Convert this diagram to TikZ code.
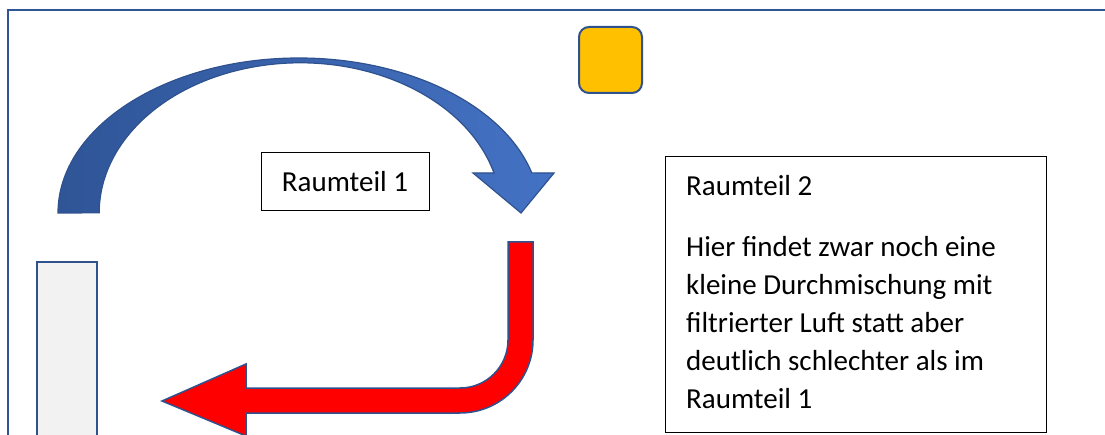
\documentclass[tikz,border=0pt]{standalone}
\usepackage{fontspec}
\setmainfont{Carlito}
\definecolor{frameblue}{HTML}{2F5597}
\definecolor{outl}{HTML}{2F528F}
\definecolor{bluedark}{HTML}{2F5597}
\definecolor{bluelight}{HTML}{4472C4}
\definecolor{orangefill}{HTML}{FFC000}
\definecolor{grayfill}{HTML}{F2F2F2}
\definecolor{redfill}{HTML}{FF0000}
\tikzset{
  textbox/.style={draw=black, line width=1pt, fill=white, inner sep=0pt},
  labeltext/.style={font=\fontsize{29}{38}\selectfont, inner sep=0pt},
  shapeline/.style={draw=outl, line width=1.5pt},
}
\begin{document}
\begin{tikzpicture}[x=1pt,y=-1pt]
\useasboundingbox (0,0) rectangle (1105,435);
% outer frame
\draw[frameblue, line width=2.5pt] (8,10) rectangle (1140,470);
% blue curved arrow
\path[shapeline, line width=1.2pt, left color=bluedark, right color=bluelight]
  (58,213) arc[start angle=180, end angle=345, x radius=241, y radius=155]
  -- (554,173) -- (521,213) -- (473,173) -- (494,173)
  arc[start angle=344.6, end angle=180, x radius=201, y radius=150] -- cycle;
% orange square
\node[shapeline, line width=2pt, fill=orangefill, rounded corners=10pt,
      minimum width=63pt, minimum height=66pt, inner sep=0pt] (sq) at (610.5,60) {};
% grey bar
\path[shapeline, line width=2pt, fill=grayfill] (37,262) rectangle (97,450);
% red arrow
\path[shapeline, fill=redfill]
  (508,242) -- (533,242) -- (533,340)
  arc[start angle=0, end angle=90, radius=73]
  -- (246,413) -- (246,436) -- (162,401) -- (246,364) -- (246,388) -- (460,388)
  arc[start angle=90, end angle=0, radius=48] -- cycle;
% Raumteil 1
\node[textbox, labeltext, minimum width=168pt, minimum height=58pt] (r1) at (345,182) {Raumteil 1};
% Raumteil 2
\node[textbox, minimum width=381pt, minimum height=275pt] (box2) at (855.5,294.5) {};
\node[labeltext, anchor=base west] (r2title) at (686,196) {Raumteil 2};
\node[labeltext, anchor=base west, align=left] (r2text) at (686,408)
  {Hier findet zwar noch eine\\kleine Durchmischung mit\\filtrierter Luft statt aber\\deutlich schlechter als im\\Raumteil 1};
\end{tikzpicture}
\end{document}
